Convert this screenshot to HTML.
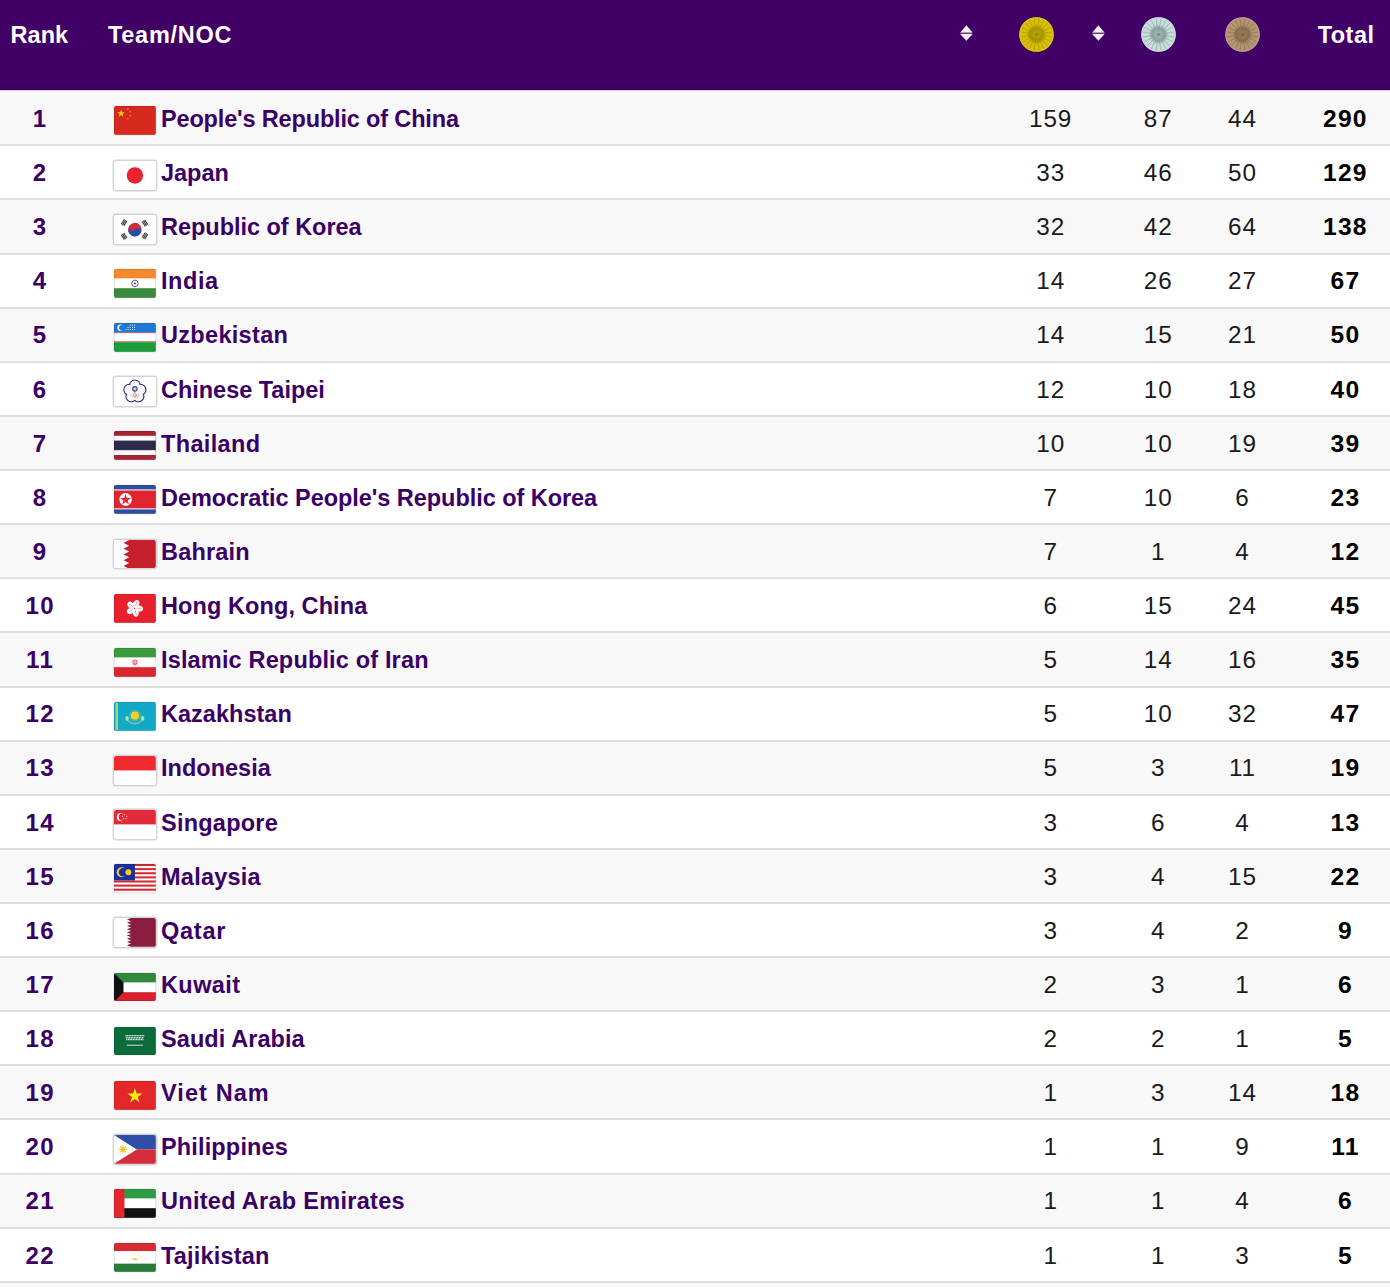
<!DOCTYPE html><html><head><meta charset="utf-8"><style>
*{margin:0;padding:0;box-sizing:border-box}
html,body{width:1390px;height:1287px;overflow:hidden;background:#f8f8f8;font-family:"Liberation Sans",sans-serif}
.hdr{position:absolute;left:0;top:0;width:1390px;height:90px;background:#400065;border-bottom:1px solid #2e004a}
.ht{position:absolute;color:#fff;font-weight:bold;font-size:23.5px;line-height:1;top:24.2px}
.row{position:absolute;left:0;width:1390px}
.row.o{background:#f8f8f8}
.row.e{background:#fff}
.ln{position:absolute;left:0;width:1390px;height:2px;background:#dfdfdf}
.rk,.nm{position:absolute;color:#3a0066;font-weight:bold;font-size:23.5px;line-height:1;white-space:nowrap}
.rk{left:0;width:79px;text-align:center;font-size:24px;letter-spacing:1.5px;padding-left:1.5px}
.nm{left:161px}
.n{position:absolute;color:#1a1a1a;font-size:24.3px;line-height:1;width:80px;text-align:center;letter-spacing:0.9px;padding-left:0.9px;margin-top:-0.4px}
.t{position:absolute;color:#000;font-weight:bold;font-size:24.6px;line-height:1;width:80px;text-align:center;letter-spacing:1.2px;padding-left:1.2px;margin-top:-0.6px}
.fl{position:absolute;left:114.3px;width:41.8px;height:28.8px;border-radius:2px;overflow:hidden;box-shadow:0 0 1px rgba(0,0,0,0.35)}
.fl svg{display:block;width:100%;height:100%}
.fl::after{content:"";position:absolute;inset:0;border-radius:2.5px;box-shadow:inset 0 0 0 0.8px rgba(0,0,0,0.12)}
.fl.w{overflow:visible;box-shadow:0 0 0 1.4px #d3d3d3}.fl.w svg{border-radius:2.5px}.fl.w::after{display:none}
.med{position:absolute;top:16.5px;width:35px;height:35px}
.sort{position:absolute;top:25px;width:13px;height:17px}
</style></head><body>
<div class="hdr">
<div class="ht" style="left:10.4px;letter-spacing:0.1px">Rank</div>
<div class="ht" style="left:108px;letter-spacing:0.72px">Team/NOC</div>
<svg class="sort" style="left:960.0px" viewBox="0 0 13 17"><path d="M6.4 0.25 L12.7 7.8 L0.1 7.8 Z" fill="#fdeefe"/><path d="M6.4 15.8 L12.7 8.9 L0.1 8.9 Z" fill="#fdeefe"/><rect x="0.6" y="7.8" width="11.6" height="1.1" fill="#5a4a74"/></svg>
<svg class="med" style="left:1019.2px" viewBox="0 0 35 35"><defs><radialGradient id="gr"><stop offset="0" stop-color="#9c8900" stop-opacity="0.55"/><stop offset="0.42" stop-color="#9c8900" stop-opacity="0.75"/><stop offset="0.62" stop-color="#9c8900" stop-opacity="0"/></radialGradient><filter id="gf" x="-10%" y="-10%" width="120%" height="120%"><feGaussianBlur stdDeviation="0.5"/></filter></defs><circle cx="17.5" cy="17.5" r="17.3" fill="#d8be00"/><g filter="url(#gf)"><line x1="22.44" y1="18.28" x2="33.30" y2="20.00" stroke="#9c8900" stroke-width="1.0" stroke-opacity="0.5"/><line x1="21.96" y1="19.77" x2="31.76" y2="24.76" stroke="#9c8900" stroke-width="1.0" stroke-opacity="0.5"/><line x1="21.04" y1="21.04" x2="28.81" y2="28.81" stroke="#9c8900" stroke-width="1.0" stroke-opacity="0.5"/><line x1="19.77" y1="21.96" x2="24.76" y2="31.76" stroke="#9c8900" stroke-width="1.0" stroke-opacity="0.5"/><line x1="18.28" y1="22.44" x2="20.00" y2="33.30" stroke="#9c8900" stroke-width="1.0" stroke-opacity="0.5"/><line x1="16.72" y1="22.44" x2="15.00" y2="33.30" stroke="#9c8900" stroke-width="1.0" stroke-opacity="0.5"/><line x1="15.23" y1="21.96" x2="10.24" y2="31.76" stroke="#9c8900" stroke-width="1.0" stroke-opacity="0.5"/><line x1="13.96" y1="21.04" x2="6.19" y2="28.81" stroke="#9c8900" stroke-width="1.0" stroke-opacity="0.5"/><line x1="13.04" y1="19.77" x2="3.24" y2="24.76" stroke="#9c8900" stroke-width="1.0" stroke-opacity="0.5"/><line x1="12.56" y1="18.28" x2="1.70" y2="20.00" stroke="#9c8900" stroke-width="1.0" stroke-opacity="0.5"/><line x1="12.56" y1="16.72" x2="1.70" y2="15.00" stroke="#9c8900" stroke-width="1.0" stroke-opacity="0.5"/><line x1="13.04" y1="15.23" x2="3.24" y2="10.24" stroke="#9c8900" stroke-width="1.0" stroke-opacity="0.5"/><line x1="13.96" y1="13.96" x2="6.19" y2="6.19" stroke="#9c8900" stroke-width="1.0" stroke-opacity="0.5"/><line x1="15.23" y1="13.04" x2="10.24" y2="3.24" stroke="#9c8900" stroke-width="1.0" stroke-opacity="0.5"/><line x1="16.72" y1="12.56" x2="15.00" y2="1.70" stroke="#9c8900" stroke-width="1.0" stroke-opacity="0.5"/><line x1="18.28" y1="12.56" x2="20.00" y2="1.70" stroke="#9c8900" stroke-width="1.0" stroke-opacity="0.5"/><line x1="19.77" y1="13.04" x2="24.76" y2="3.24" stroke="#9c8900" stroke-width="1.0" stroke-opacity="0.5"/><line x1="21.04" y1="13.96" x2="28.81" y2="6.19" stroke="#9c8900" stroke-width="1.0" stroke-opacity="0.5"/><line x1="21.96" y1="15.23" x2="31.76" y2="10.24" stroke="#9c8900" stroke-width="1.0" stroke-opacity="0.5"/><line x1="22.44" y1="16.72" x2="33.30" y2="15.00" stroke="#9c8900" stroke-width="1.0" stroke-opacity="0.5"/><circle cx="17.5" cy="17.5" r="16" fill="url(#gr)"/><circle cx="17.5" cy="17.5" r="3.2" fill="none" stroke="#b5a000" stroke-width="1.2" stroke-opacity="0.8"/><circle cx="17.5" cy="17.5" r="1.2" fill="#8f7f00"/><circle cx="17.5" cy="17.5" r="16.7" fill="none" stroke="#e0c830" stroke-width="1.1" stroke-opacity="0.7"/></g></svg>
<svg class="sort" style="left:1091.5px" viewBox="0 0 13 17"><path d="M6.4 0.25 L12.7 7.8 L0.1 7.8 Z" fill="#fdeefe"/><path d="M6.4 15.8 L12.7 8.9 L0.1 8.9 Z" fill="#fdeefe"/><rect x="0.6" y="7.8" width="11.6" height="1.1" fill="#5a4a74"/></svg>
<svg class="med" style="left:1140.7px" viewBox="0 0 35 35"><defs><radialGradient id="sr"><stop offset="0" stop-color="#7e9494" stop-opacity="0.55"/><stop offset="0.42" stop-color="#7e9494" stop-opacity="0.75"/><stop offset="0.62" stop-color="#7e9494" stop-opacity="0"/></radialGradient><filter id="sf" x="-10%" y="-10%" width="120%" height="120%"><feGaussianBlur stdDeviation="0.5"/></filter></defs><circle cx="17.5" cy="17.5" r="17.3" fill="#c4ddd6"/><g filter="url(#sf)"><line x1="22.44" y1="18.28" x2="33.30" y2="20.00" stroke="#7e9494" stroke-width="1.0" stroke-opacity="0.5"/><line x1="21.96" y1="19.77" x2="31.76" y2="24.76" stroke="#7e9494" stroke-width="1.0" stroke-opacity="0.5"/><line x1="21.04" y1="21.04" x2="28.81" y2="28.81" stroke="#7e9494" stroke-width="1.0" stroke-opacity="0.5"/><line x1="19.77" y1="21.96" x2="24.76" y2="31.76" stroke="#7e9494" stroke-width="1.0" stroke-opacity="0.5"/><line x1="18.28" y1="22.44" x2="20.00" y2="33.30" stroke="#7e9494" stroke-width="1.0" stroke-opacity="0.5"/><line x1="16.72" y1="22.44" x2="15.00" y2="33.30" stroke="#7e9494" stroke-width="1.0" stroke-opacity="0.5"/><line x1="15.23" y1="21.96" x2="10.24" y2="31.76" stroke="#7e9494" stroke-width="1.0" stroke-opacity="0.5"/><line x1="13.96" y1="21.04" x2="6.19" y2="28.81" stroke="#7e9494" stroke-width="1.0" stroke-opacity="0.5"/><line x1="13.04" y1="19.77" x2="3.24" y2="24.76" stroke="#7e9494" stroke-width="1.0" stroke-opacity="0.5"/><line x1="12.56" y1="18.28" x2="1.70" y2="20.00" stroke="#7e9494" stroke-width="1.0" stroke-opacity="0.5"/><line x1="12.56" y1="16.72" x2="1.70" y2="15.00" stroke="#7e9494" stroke-width="1.0" stroke-opacity="0.5"/><line x1="13.04" y1="15.23" x2="3.24" y2="10.24" stroke="#7e9494" stroke-width="1.0" stroke-opacity="0.5"/><line x1="13.96" y1="13.96" x2="6.19" y2="6.19" stroke="#7e9494" stroke-width="1.0" stroke-opacity="0.5"/><line x1="15.23" y1="13.04" x2="10.24" y2="3.24" stroke="#7e9494" stroke-width="1.0" stroke-opacity="0.5"/><line x1="16.72" y1="12.56" x2="15.00" y2="1.70" stroke="#7e9494" stroke-width="1.0" stroke-opacity="0.5"/><line x1="18.28" y1="12.56" x2="20.00" y2="1.70" stroke="#7e9494" stroke-width="1.0" stroke-opacity="0.5"/><line x1="19.77" y1="13.04" x2="24.76" y2="3.24" stroke="#7e9494" stroke-width="1.0" stroke-opacity="0.5"/><line x1="21.04" y1="13.96" x2="28.81" y2="6.19" stroke="#7e9494" stroke-width="1.0" stroke-opacity="0.5"/><line x1="21.96" y1="15.23" x2="31.76" y2="10.24" stroke="#7e9494" stroke-width="1.0" stroke-opacity="0.5"/><line x1="22.44" y1="16.72" x2="33.30" y2="15.00" stroke="#7e9494" stroke-width="1.0" stroke-opacity="0.5"/><circle cx="17.5" cy="17.5" r="16" fill="url(#sr)"/><circle cx="17.5" cy="17.5" r="3.2" fill="none" stroke="#9aaeac" stroke-width="1.2" stroke-opacity="0.8"/><circle cx="17.5" cy="17.5" r="1.2" fill="#6f8584"/><circle cx="17.5" cy="17.5" r="16.7" fill="none" stroke="#d8d2f0" stroke-width="1.1" stroke-opacity="0.7"/></g></svg>
<svg class="med" style="left:1225.0px" viewBox="0 0 35 35"><defs><radialGradient id="br"><stop offset="0" stop-color="#7e6446" stop-opacity="0.55"/><stop offset="0.42" stop-color="#7e6446" stop-opacity="0.75"/><stop offset="0.62" stop-color="#7e6446" stop-opacity="0"/></radialGradient><filter id="bf" x="-10%" y="-10%" width="120%" height="120%"><feGaussianBlur stdDeviation="0.5"/></filter></defs><circle cx="17.5" cy="17.5" r="17.3" fill="#b4966e"/><g filter="url(#bf)"><line x1="22.44" y1="18.28" x2="33.30" y2="20.00" stroke="#7e6446" stroke-width="1.0" stroke-opacity="0.5"/><line x1="21.96" y1="19.77" x2="31.76" y2="24.76" stroke="#7e6446" stroke-width="1.0" stroke-opacity="0.5"/><line x1="21.04" y1="21.04" x2="28.81" y2="28.81" stroke="#7e6446" stroke-width="1.0" stroke-opacity="0.5"/><line x1="19.77" y1="21.96" x2="24.76" y2="31.76" stroke="#7e6446" stroke-width="1.0" stroke-opacity="0.5"/><line x1="18.28" y1="22.44" x2="20.00" y2="33.30" stroke="#7e6446" stroke-width="1.0" stroke-opacity="0.5"/><line x1="16.72" y1="22.44" x2="15.00" y2="33.30" stroke="#7e6446" stroke-width="1.0" stroke-opacity="0.5"/><line x1="15.23" y1="21.96" x2="10.24" y2="31.76" stroke="#7e6446" stroke-width="1.0" stroke-opacity="0.5"/><line x1="13.96" y1="21.04" x2="6.19" y2="28.81" stroke="#7e6446" stroke-width="1.0" stroke-opacity="0.5"/><line x1="13.04" y1="19.77" x2="3.24" y2="24.76" stroke="#7e6446" stroke-width="1.0" stroke-opacity="0.5"/><line x1="12.56" y1="18.28" x2="1.70" y2="20.00" stroke="#7e6446" stroke-width="1.0" stroke-opacity="0.5"/><line x1="12.56" y1="16.72" x2="1.70" y2="15.00" stroke="#7e6446" stroke-width="1.0" stroke-opacity="0.5"/><line x1="13.04" y1="15.23" x2="3.24" y2="10.24" stroke="#7e6446" stroke-width="1.0" stroke-opacity="0.5"/><line x1="13.96" y1="13.96" x2="6.19" y2="6.19" stroke="#7e6446" stroke-width="1.0" stroke-opacity="0.5"/><line x1="15.23" y1="13.04" x2="10.24" y2="3.24" stroke="#7e6446" stroke-width="1.0" stroke-opacity="0.5"/><line x1="16.72" y1="12.56" x2="15.00" y2="1.70" stroke="#7e6446" stroke-width="1.0" stroke-opacity="0.5"/><line x1="18.28" y1="12.56" x2="20.00" y2="1.70" stroke="#7e6446" stroke-width="1.0" stroke-opacity="0.5"/><line x1="19.77" y1="13.04" x2="24.76" y2="3.24" stroke="#7e6446" stroke-width="1.0" stroke-opacity="0.5"/><line x1="21.04" y1="13.96" x2="28.81" y2="6.19" stroke="#7e6446" stroke-width="1.0" stroke-opacity="0.5"/><line x1="21.96" y1="15.23" x2="31.76" y2="10.24" stroke="#7e6446" stroke-width="1.0" stroke-opacity="0.5"/><line x1="22.44" y1="16.72" x2="33.30" y2="15.00" stroke="#7e6446" stroke-width="1.0" stroke-opacity="0.5"/><circle cx="17.5" cy="17.5" r="16" fill="url(#br)"/><circle cx="17.5" cy="17.5" r="3.2" fill="none" stroke="#937a5c" stroke-width="1.2" stroke-opacity="0.8"/><circle cx="17.5" cy="17.5" r="1.2" fill="#6f5a40"/><circle cx="17.5" cy="17.5" r="16.7" fill="none" stroke="#c89ab0" stroke-width="1.1" stroke-opacity="0.7"/></g></svg>
<div class="ht" style="left:1317.7px;letter-spacing:0.48px">Total</div>
</div>
<div style="position:absolute;left:0;top:90px;width:1390px;height:1px;background:#ddd3e6;z-index:2"></div><div style="position:absolute;left:0;top:91px;width:1390px;height:1px;background:#f0edf4;z-index:2"></div>
<div class="row o" style="top:90.50px;height:55.80px"></div>
<div class="ln" style="top:144.30px"></div>
<div class="rk" style="top:107px">1</div>
<div class="fl" style="top:105.80px"><svg viewBox="0 0 44 30" preserveAspectRatio="none"><rect width="44" height="30" fill="#d62a1f"/><polygon points="7.50,3.60 8.44,6.50 11.49,6.50 9.03,8.30 9.97,11.20 7.50,9.40 5.03,11.20 5.97,8.30 3.51,6.50 6.56,6.50" fill="#fcd116"/><polygon points="14.98,1.88 14.94,2.90 15.90,3.25 14.92,3.53 14.89,4.55 14.32,3.70 13.34,3.98 13.97,3.18 13.40,2.34 14.35,2.69" fill="#fc7a50"/><polygon points="18.19,5.01 17.73,5.92 18.45,6.64 17.44,6.48 16.98,7.38 16.82,6.38 15.82,6.22 16.72,5.76 16.56,4.75 17.28,5.47" fill="#fc7a50"/><polygon points="17.20,8.80 17.51,9.77 18.53,9.77 17.71,10.37 18.02,11.33 17.20,10.73 16.38,11.33 16.69,10.37 15.87,9.77 16.89,9.77" fill="#fc7a50"/><polygon points="14.98,11.88 14.94,12.90 15.90,13.25 14.92,13.53 14.89,14.55 14.32,13.70 13.34,13.98 13.97,13.18 13.40,12.34 14.35,12.69" fill="#fc7a50"/></svg></div>
<div class="nm" style="top:108.00px;letter-spacing:-0.160px">People's Republic of China</div>
<div class="n" style="left:1010.2px;top:107px">159</div>
<div class="n" style="left:1117.8px;top:107px">87</div>
<div class="n" style="left:1202.0px;top:107px">44</div>
<div class="t" style="left:1304.8px;top:108px">290</div>
<div class="row e" style="top:146.30px;height:54.12px"></div>
<div class="ln" style="top:198.42px"></div>
<div class="rk" style="top:161px">2</div>
<div class="fl w" style="top:160.76px"><svg viewBox="0 0 44 30" preserveAspectRatio="none"><rect width="44" height="30" fill="#fff"/><circle cx="22" cy="15" r="8.6" fill="#e8222f"/></svg></div>
<div class="nm" style="top:162.00px;letter-spacing:-0.025px">Japan</div>
<div class="n" style="left:1010.2px;top:161px">33</div>
<div class="n" style="left:1117.8px;top:161px">46</div>
<div class="n" style="left:1202.0px;top:161px">50</div>
<div class="t" style="left:1304.8px;top:162px">129</div>
<div class="row o" style="top:200.42px;height:54.12px"></div>
<div class="ln" style="top:252.54px"></div>
<div class="rk" style="top:215px">3</div>
<div class="fl w" style="top:214.88px"><svg viewBox="0 0 44 30" preserveAspectRatio="none"><rect width="44" height="30" fill="#fff"/><g transform="translate(22,15.2) rotate(-56.31)"><circle r="7.1" fill="#cd2e3a"/><path fill="#1c4fb0" d="M0,-7.1 A3.55,3.55 0 0 0 0,0 A3.55,3.55 0 0 1 0,7.1 A7.1,7.1 0 0 1 0,-7.1Z"/></g><g transform="translate(11,8.2) rotate(33.7)"><rect x="-2.70" y="-3.1" width="1.25" height="6.2" fill="#3a3a3a"/><rect x="-1.10" y="-3.1" width="1.25" height="6.2" fill="#3a3a3a"/><rect x="0.50" y="-3.1" width="1.25" height="6.2" fill="#3a3a3a"/><rect x="-2.8" y="-0.25" width="5.6" height="0.5" fill="#fff" opacity="0.35"/></g><g transform="translate(33,8.2) rotate(-33.7)"><rect x="-2.70" y="-3.1" width="1.25" height="6.2" fill="#3a3a3a"/><rect x="-1.10" y="-3.1" width="1.25" height="6.2" fill="#3a3a3a"/><rect x="0.50" y="-3.1" width="1.25" height="6.2" fill="#3a3a3a"/><rect x="-2.8" y="-0.25" width="5.6" height="0.5" fill="#fff" opacity="0.35"/></g><g transform="translate(11,22) rotate(-33.7)"><rect x="-2.70" y="-3.1" width="1.25" height="6.2" fill="#3a3a3a"/><rect x="-1.10" y="-3.1" width="1.25" height="6.2" fill="#3a3a3a"/><rect x="0.50" y="-3.1" width="1.25" height="6.2" fill="#3a3a3a"/><rect x="-2.8" y="-0.25" width="5.6" height="0.5" fill="#fff" opacity="0.35"/></g><g transform="translate(33,22) rotate(33.7)"><rect x="-2.70" y="-3.1" width="1.25" height="6.2" fill="#3a3a3a"/><rect x="-1.10" y="-3.1" width="1.25" height="6.2" fill="#3a3a3a"/><rect x="0.50" y="-3.1" width="1.25" height="6.2" fill="#3a3a3a"/><rect x="-2.8" y="-0.25" width="5.6" height="0.5" fill="#fff" opacity="0.35"/></g></svg></div>
<div class="nm" style="top:216.00px;letter-spacing:-0.025px">Republic of Korea</div>
<div class="n" style="left:1010.2px;top:215px">32</div>
<div class="n" style="left:1117.8px;top:215px">42</div>
<div class="n" style="left:1202.0px;top:215px">64</div>
<div class="t" style="left:1304.8px;top:216px">138</div>
<div class="row e" style="top:254.54px;height:54.12px"></div>
<div class="ln" style="top:306.66px"></div>
<div class="rk" style="top:269px">4</div>
<div class="fl" style="top:269.00px"><svg viewBox="0 0 44 30" preserveAspectRatio="none"><rect width="44" height="10" fill="#f7882d"/><rect y="10" width="44" height="10" fill="#fff"/><rect y="20" width="44" height="10" fill="#3b8a3c"/><circle cx="22" cy="15" r="3.4" fill="none" stroke="#1e2a78" stroke-width="0.8"/><circle cx="22" cy="15" r="1" fill="#1e2a78"/></svg></div>
<div class="nm" style="top:270.00px;letter-spacing:0.550px">India</div>
<div class="n" style="left:1010.2px;top:269px">14</div>
<div class="n" style="left:1117.8px;top:269px">26</div>
<div class="n" style="left:1202.0px;top:269px">27</div>
<div class="t" style="left:1304.8px;top:270px">67</div>
<div class="row o" style="top:308.66px;height:54.12px"></div>
<div class="ln" style="top:360.78px"></div>
<div class="rk" style="top:323px">5</div>
<div class="fl" style="top:323.12px"><svg viewBox="0 0 44 30" preserveAspectRatio="none"><rect width="44" height="10" fill="#1b78d4"/><rect y="10" width="44" height="0.8" fill="#d22"/><rect y="10.8" width="44" height="8.4" fill="#fff"/><rect y="19.2" width="44" height="0.8" fill="#d22"/><rect y="20" width="44" height="10" fill="#1a9c3b"/><circle cx="7" cy="5" r="3.4" fill="#fff"/><circle cx="8.4" cy="5" r="3" fill="#1b78d4"/><circle cx="17.1" cy="2.2" r="0.6" fill="#fff"/><circle cx="19.4" cy="2.2" r="0.6" fill="#fff"/><circle cx="21.7" cy="2.2" r="0.6" fill="#fff"/><circle cx="14.8" cy="4.5" r="0.6" fill="#fff"/><circle cx="17.1" cy="4.5" r="0.6" fill="#fff"/><circle cx="19.4" cy="4.5" r="0.6" fill="#fff"/><circle cx="21.7" cy="4.5" r="0.6" fill="#fff"/><circle cx="12.5" cy="6.8" r="0.6" fill="#fff"/><circle cx="14.8" cy="6.8" r="0.6" fill="#fff"/><circle cx="17.1" cy="6.8" r="0.6" fill="#fff"/><circle cx="19.4" cy="6.8" r="0.6" fill="#fff"/><circle cx="21.7" cy="6.8" r="0.6" fill="#fff"/></svg></div>
<div class="nm" style="top:324.00px;letter-spacing:0.311px">Uzbekistan</div>
<div class="n" style="left:1010.2px;top:323px">14</div>
<div class="n" style="left:1117.8px;top:323px">15</div>
<div class="n" style="left:1202.0px;top:323px">21</div>
<div class="t" style="left:1304.8px;top:324px">50</div>
<div class="row e" style="top:362.78px;height:54.12px"></div>
<div class="ln" style="top:414.90px"></div>
<div class="rk" style="top:378px">6</div>
<div class="fl w" style="top:377.24px"><svg viewBox="0 0 44 30" preserveAspectRatio="none"><rect width="44" height="30" fill="#fff"/><circle cx="22.00" cy="8.90" r="5.6" fill="#fff" stroke="#3c3f7a" stroke-width="1.4"/><circle cx="27.99" cy="13.25" r="5.6" fill="#fff" stroke="#3c3f7a" stroke-width="1.4"/><circle cx="25.70" cy="20.30" r="5.6" fill="#fff" stroke="#3c3f7a" stroke-width="1.4"/><circle cx="18.30" cy="20.30" r="5.6" fill="#fff" stroke="#3c3f7a" stroke-width="1.4"/><circle cx="16.01" cy="13.25" r="5.6" fill="#fff" stroke="#3c3f7a" stroke-width="1.4"/><circle cx="22.00" cy="8.90" r="4.9" fill="#fdf8fc"/><circle cx="27.99" cy="13.25" r="4.9" fill="#fdf8fc"/><circle cx="25.70" cy="20.30" r="4.9" fill="#fdf8fc"/><circle cx="18.30" cy="20.30" r="4.9" fill="#fdf8fc"/><circle cx="16.01" cy="13.25" r="4.9" fill="#fdf8fc"/><circle cx="22" cy="15.2" r="6.5" fill="#fdf8fc"/><circle cx="19" cy="19" r="1.5" fill="none" stroke="#e8b040" stroke-width="0.5" opacity="0.7"/><circle cx="22" cy="19" r="1.5" fill="none" stroke="#444" stroke-width="0.5" opacity="0.7"/><circle cx="25" cy="19" r="1.5" fill="none" stroke="#e06060" stroke-width="0.5" opacity="0.7"/><circle cx="20.5" cy="20.4" r="1.5" fill="none" stroke="#e8c860" stroke-width="0.5" opacity="0.7"/><circle cx="23.5" cy="20.4" r="1.5" fill="none" stroke="#60a060" stroke-width="0.5" opacity="0.7"/><circle cx="22" cy="12.4" r="2.3" fill="#b8d0ff" stroke="#3a4a80" stroke-width="1.2"/><path d="M22 14.8 L22 17.2" stroke="#3a4a80" stroke-width="0.6"/></svg></div>
<div class="nm" style="top:379.00px;letter-spacing:-0.023px">Chinese Taipei</div>
<div class="n" style="left:1010.2px;top:378px">12</div>
<div class="n" style="left:1117.8px;top:378px">10</div>
<div class="n" style="left:1202.0px;top:378px">18</div>
<div class="t" style="left:1304.8px;top:379px">40</div>
<div class="row o" style="top:416.90px;height:54.12px"></div>
<div class="ln" style="top:469.02px"></div>
<div class="rk" style="top:432px">7</div>
<div class="fl" style="top:431.36px"><svg viewBox="0 0 44 30" preserveAspectRatio="none"><rect width="44" height="30" fill="#a8222f"/><rect y="5" width="44" height="20" fill="#fff"/><rect y="10" width="44" height="10" fill="#2d2a4a"/></svg></div>
<div class="nm" style="top:433.00px;letter-spacing:0.343px">Thailand</div>
<div class="n" style="left:1010.2px;top:432px">10</div>
<div class="n" style="left:1117.8px;top:432px">10</div>
<div class="n" style="left:1202.0px;top:432px">19</div>
<div class="t" style="left:1304.8px;top:433px">39</div>
<div class="row e" style="top:471.02px;height:54.12px"></div>
<div class="ln" style="top:523.14px"></div>
<div class="rk" style="top:486px">8</div>
<div class="fl" style="top:485.48px"><svg viewBox="0 0 44 30" preserveAspectRatio="none"><rect width="44" height="30" fill="#2b4ea3"/><rect y="4.6" width="44" height="20.8" fill="#fff"/><rect y="5.7" width="44" height="18.6" fill="#e2242f"/><circle cx="12.2" cy="15" r="6.6" fill="#fff"/><polygon points="12.20,9.30 13.57,13.51 18.00,13.51 14.42,16.12 15.79,20.34 12.20,17.73 8.61,20.34 9.98,16.12 6.40,13.51 10.83,13.51" fill="#e2242f"/></svg></div>
<div class="nm" style="top:487.00px;letter-spacing:-0.047px">Democratic People's Republic of Korea</div>
<div class="n" style="left:1010.2px;top:486px">7</div>
<div class="n" style="left:1117.8px;top:486px">10</div>
<div class="n" style="left:1202.0px;top:486px">6</div>
<div class="t" style="left:1304.8px;top:487px">23</div>
<div class="row o" style="top:525.14px;height:54.12px"></div>
<div class="ln" style="top:577.26px"></div>
<div class="rk" style="top:540px">9</div>
<div class="fl w" style="top:539.60px"><svg viewBox="0 0 44 30" preserveAspectRatio="none"><rect width="44" height="30" fill="#fff"/><polygon points="16,0 10,3.00 16,6.00 10,9.00 16,12.00 10,15.00 16,18.00 10,21.00 16,24.00 10,27.00 16,30.00 44,30 44,0" fill="#c6202f"/></svg></div>
<div class="nm" style="top:541.00px;letter-spacing:0.200px">Bahrain</div>
<div class="n" style="left:1010.2px;top:540px">7</div>
<div class="n" style="left:1117.8px;top:540px">1</div>
<div class="n" style="left:1202.0px;top:540px">4</div>
<div class="t" style="left:1304.8px;top:541px">12</div>
<div class="row e" style="top:579.26px;height:54.12px"></div>
<div class="ln" style="top:631.38px"></div>
<div class="rk" style="top:594px">10</div>
<div class="fl" style="top:593.72px"><svg viewBox="0 0 44 30" preserveAspectRatio="none"><rect width="44" height="30" fill="#e8202e"/><g transform="translate(21.6 14.8) rotate(8)"><ellipse cx="0.9" cy="-4.5" rx="3.1" ry="4.5" fill="#fff" transform="rotate(22 0.9 -4.5)"/><path d="M0.2 -1.5 Q1.6 -4 1.2 -7" stroke="#e8202e" stroke-width="0.45" fill="none"/></g><g transform="translate(21.6 14.8) rotate(80)"><ellipse cx="0.9" cy="-4.5" rx="3.1" ry="4.5" fill="#fff" transform="rotate(22 0.9 -4.5)"/><path d="M0.2 -1.5 Q1.6 -4 1.2 -7" stroke="#e8202e" stroke-width="0.45" fill="none"/></g><g transform="translate(21.6 14.8) rotate(152)"><ellipse cx="0.9" cy="-4.5" rx="3.1" ry="4.5" fill="#fff" transform="rotate(22 0.9 -4.5)"/><path d="M0.2 -1.5 Q1.6 -4 1.2 -7" stroke="#e8202e" stroke-width="0.45" fill="none"/></g><g transform="translate(21.6 14.8) rotate(224)"><ellipse cx="0.9" cy="-4.5" rx="3.1" ry="4.5" fill="#fff" transform="rotate(22 0.9 -4.5)"/><path d="M0.2 -1.5 Q1.6 -4 1.2 -7" stroke="#e8202e" stroke-width="0.45" fill="none"/></g><g transform="translate(21.6 14.8) rotate(296)"><ellipse cx="0.9" cy="-4.5" rx="3.1" ry="4.5" fill="#fff" transform="rotate(22 0.9 -4.5)"/><path d="M0.2 -1.5 Q1.6 -4 1.2 -7" stroke="#e8202e" stroke-width="0.45" fill="none"/></g><circle cx="21.6" cy="14.8" r="0.8" fill="#e8202e"/></svg></div>
<div class="nm" style="top:595.00px;letter-spacing:0.087px">Hong Kong, China</div>
<div class="n" style="left:1010.2px;top:594px">6</div>
<div class="n" style="left:1117.8px;top:594px">15</div>
<div class="n" style="left:1202.0px;top:594px">24</div>
<div class="t" style="left:1304.8px;top:595px">45</div>
<div class="row o" style="top:633.38px;height:54.12px"></div>
<div class="ln" style="top:685.50px"></div>
<div class="rk" style="top:648px">11</div>
<div class="fl" style="top:647.84px"><svg viewBox="0 0 44 30" preserveAspectRatio="none"><rect width="44" height="10" fill="#3c9a3f"/><rect y="10" width="44" height="10" fill="#fff"/><rect y="20" width="44" height="10" fill="#d8272e"/><path d="M22 11.6 L22 18.2 M20.3 12.5 Q19 15 21 17.6 M23.7 12.5 Q25 15 23 17.6" stroke="#d8272e" stroke-width="0.9" fill="none"/></svg></div>
<div class="nm" style="top:649.00px;letter-spacing:0.161px">Islamic Republic of Iran</div>
<div class="n" style="left:1010.2px;top:648px">5</div>
<div class="n" style="left:1117.8px;top:648px">14</div>
<div class="n" style="left:1202.0px;top:648px">16</div>
<div class="t" style="left:1304.8px;top:649px">35</div>
<div class="row e" style="top:687.50px;height:54.12px"></div>
<div class="ln" style="top:739.62px"></div>
<div class="rk" style="top:702px">12</div>
<div class="fl" style="top:701.96px"><svg viewBox="0 0 44 30" preserveAspectRatio="none"><rect width="44" height="30" fill="#12a9c9"/><rect x="1.6" y="1" width="2.6" height="28" fill="#a6d67c"/><circle cx="22" cy="14.2" r="4.3" fill="#f5d11e"/><circle cx="22" cy="14.2" r="5.6" fill="none" stroke="#f0d850" stroke-width="0.6" opacity="0.6"/><ellipse cx="13.8" cy="17.2" rx="1.7" ry="2.5" fill="#b6e39a"/><ellipse cx="30.2" cy="17.2" rx="1.7" ry="2.5" fill="#b6e39a"/><path d="M15 19.6 Q22 25.5 29 19.6" stroke="#6cc8a8" stroke-width="1.6" fill="none"/></svg></div>
<div class="nm" style="top:703.00px;letter-spacing:0.022px">Kazakhstan</div>
<div class="n" style="left:1010.2px;top:702px">5</div>
<div class="n" style="left:1117.8px;top:702px">10</div>
<div class="n" style="left:1202.0px;top:702px">32</div>
<div class="t" style="left:1304.8px;top:703px">47</div>
<div class="row o" style="top:741.62px;height:54.12px"></div>
<div class="ln" style="top:793.74px"></div>
<div class="rk" style="top:756px">13</div>
<div class="fl w" style="top:756.08px"><svg viewBox="0 0 44 30" preserveAspectRatio="none"><rect width="44" height="30" fill="#fff"/><rect width="44" height="15" fill="#ef2a2f"/></svg></div>
<div class="nm" style="top:757.00px;letter-spacing:0.013px">Indonesia</div>
<div class="n" style="left:1010.2px;top:756px">5</div>
<div class="n" style="left:1117.8px;top:756px">3</div>
<div class="n" style="left:1202.0px;top:756px">11</div>
<div class="t" style="left:1304.8px;top:757px">19</div>
<div class="row e" style="top:795.74px;height:54.12px"></div>
<div class="ln" style="top:847.86px"></div>
<div class="rk" style="top:811px">14</div>
<div class="fl w" style="top:810.20px"><svg viewBox="0 0 44 30" preserveAspectRatio="none"><rect width="44" height="30" fill="#fff"/><rect width="44" height="15" fill="#e32a3a"/><circle cx="7.3" cy="7.4" r="4.3" fill="#fff"/><circle cx="9" cy="7.4" r="4" fill="#e32a3a"/><polygon points="11.20,4.10 11.40,4.72 12.06,4.72 11.53,5.11 11.73,5.73 11.20,5.34 10.67,5.73 10.87,5.11 10.34,4.72 11.00,4.72" fill="#fff"/><polygon points="13.39,5.69 13.59,6.31 14.24,6.31 13.71,6.70 13.92,7.32 13.39,6.93 12.86,7.32 13.06,6.70 12.53,6.31 13.19,6.31" fill="#fff"/><polygon points="12.55,8.26 12.75,8.88 13.41,8.88 12.88,9.27 13.08,9.89 12.55,9.50 12.02,9.89 12.22,9.27 11.70,8.88 12.35,8.88" fill="#fff"/><polygon points="9.85,8.26 10.05,8.88 10.70,8.88 10.18,9.27 10.38,9.89 9.85,9.50 9.32,9.89 9.52,9.27 8.99,8.88 9.65,8.88" fill="#fff"/><polygon points="9.01,5.69 9.21,6.31 9.87,6.31 9.34,6.70 9.54,7.32 9.01,6.93 8.48,7.32 8.69,6.70 8.16,6.31 8.81,6.31" fill="#fff"/></svg></div>
<div class="nm" style="top:812.00px;letter-spacing:0.237px">Singapore</div>
<div class="n" style="left:1010.2px;top:811px">3</div>
<div class="n" style="left:1117.8px;top:811px">6</div>
<div class="n" style="left:1202.0px;top:811px">4</div>
<div class="t" style="left:1304.8px;top:812px">13</div>
<div class="row o" style="top:849.86px;height:54.12px"></div>
<div class="ln" style="top:901.98px"></div>
<div class="rk" style="top:865px">15</div>
<div class="fl" style="top:864.32px"><svg viewBox="0 0 44 30" preserveAspectRatio="none"><rect width="44" height="30" fill="#fff"/><rect y="0.000" width="44" height="2.143" fill="#d42a32"/><rect y="4.286" width="44" height="2.143" fill="#d42a32"/><rect y="8.571" width="44" height="2.143" fill="#d42a32"/><rect y="12.857" width="44" height="2.143" fill="#d42a32"/><rect y="17.143" width="44" height="2.143" fill="#d42a32"/><rect y="21.429" width="44" height="2.143" fill="#d42a32"/><rect y="25.714" width="44" height="2.143" fill="#d42a32"/><rect width="22" height="17.14" fill="#1a2fa0"/><circle cx="8" cy="8.6" r="5.2" fill="#f7cf1a"/><circle cx="9.6" cy="8.6" r="4.5" fill="#1a2fa0"/><circle cx="15.2" cy="8.6" r="3.1" fill="#f7cf1a"/></svg></div>
<div class="nm" style="top:866.00px;letter-spacing:0.243px">Malaysia</div>
<div class="n" style="left:1010.2px;top:865px">3</div>
<div class="n" style="left:1117.8px;top:865px">4</div>
<div class="n" style="left:1202.0px;top:865px">15</div>
<div class="t" style="left:1304.8px;top:866px">22</div>
<div class="row e" style="top:903.98px;height:54.12px"></div>
<div class="ln" style="top:956.10px"></div>
<div class="rk" style="top:919px">16</div>
<div class="fl w" style="top:918.44px"><svg viewBox="0 0 44 30" preserveAspectRatio="none"><rect width="44" height="30" fill="#fff"/><polygon points="18,0 13.5,1.67 18,3.33 13.5,5.00 18,6.67 13.5,8.33 18,10.00 13.5,11.67 18,13.33 13.5,15.00 18,16.67 13.5,18.33 18,20.00 13.5,21.67 18,23.33 13.5,25.00 18,26.67 13.5,28.33 18,30.00 44,30 44,0" fill="#8a1c40"/></svg></div>
<div class="nm" style="top:920.00px;letter-spacing:0.750px">Qatar</div>
<div class="n" style="left:1010.2px;top:919px">3</div>
<div class="n" style="left:1117.8px;top:919px">4</div>
<div class="n" style="left:1202.0px;top:919px">2</div>
<div class="t" style="left:1304.8px;top:920px">9</div>
<div class="row o" style="top:958.10px;height:54.12px"></div>
<div class="ln" style="top:1010.22px"></div>
<div class="rk" style="top:973px">17</div>
<div class="fl" style="top:972.56px"><svg viewBox="0 0 44 30" preserveAspectRatio="none"><rect width="44" height="10" fill="#2f8a3e"/><rect y="10" width="44" height="10" fill="#fff"/><rect y="20" width="44" height="10" fill="#d8202e"/><polygon points="0,0 10,10 10,20 0,30" fill="#111"/></svg></div>
<div class="nm" style="top:974.00px;letter-spacing:0.400px">Kuwait</div>
<div class="n" style="left:1010.2px;top:973px">2</div>
<div class="n" style="left:1117.8px;top:973px">3</div>
<div class="n" style="left:1202.0px;top:973px">1</div>
<div class="t" style="left:1304.8px;top:974px">6</div>
<div class="row e" style="top:1012.22px;height:54.12px"></div>
<div class="ln" style="top:1064.34px"></div>
<div class="rk" style="top:1027px">18</div>
<div class="fl" style="top:1026.68px"><svg viewBox="0 0 44 30" preserveAspectRatio="none"><rect width="44" height="30" fill="#0b6b3c"/><path d="M12 9 h20 M12.5 11 h19 M13 13 h18" stroke="#e8f0ea" stroke-width="1.4" stroke-dasharray="1.2 0.5"/><rect x="13.5" y="18.5" width="17" height="0.9" fill="#e8f0ea"/></svg></div>
<div class="nm" style="top:1028.00px;letter-spacing:0.082px">Saudi Arabia</div>
<div class="n" style="left:1010.2px;top:1027px">2</div>
<div class="n" style="left:1117.8px;top:1027px">2</div>
<div class="n" style="left:1202.0px;top:1027px">1</div>
<div class="t" style="left:1304.8px;top:1028px">5</div>
<div class="row o" style="top:1066.34px;height:54.12px"></div>
<div class="ln" style="top:1118.46px"></div>
<div class="rk" style="top:1081px">19</div>
<div class="fl" style="top:1080.80px"><svg viewBox="0 0 44 30" preserveAspectRatio="none"><rect width="44" height="30" fill="#e2262a"/><polygon points="22.00,7.20 23.89,13.00 29.99,13.00 25.05,16.59 26.94,22.40 22.00,18.81 17.06,22.40 18.95,16.59 14.01,13.00 20.11,13.00" fill="#ffe81a"/></svg></div>
<div class="nm" style="top:1082.00px;letter-spacing:1.086px">Viet Nam</div>
<div class="n" style="left:1010.2px;top:1081px">1</div>
<div class="n" style="left:1117.8px;top:1081px">3</div>
<div class="n" style="left:1202.0px;top:1081px">14</div>
<div class="t" style="left:1304.8px;top:1082px">18</div>
<div class="row e" style="top:1120.46px;height:54.12px"></div>
<div class="ln" style="top:1172.58px"></div>
<div class="rk" style="top:1135px">20</div>
<div class="fl w" style="top:1134.92px"><svg viewBox="0 0 44 30" preserveAspectRatio="none"><rect width="44" height="15" fill="#2f4ea8"/><rect y="15" width="44" height="15" fill="#d42d3a"/><polygon points="0,0 24,15 0,30" fill="#fff"/><line x1="9.5" y1="15" x2="13.90" y2="15.00" stroke="#f2c531" stroke-width="1.1"/><line x1="9.5" y1="15" x2="12.61" y2="18.11" stroke="#f2c531" stroke-width="1.1"/><line x1="9.5" y1="15" x2="9.50" y2="19.40" stroke="#f2c531" stroke-width="1.1"/><line x1="9.5" y1="15" x2="6.39" y2="18.11" stroke="#f2c531" stroke-width="1.1"/><line x1="9.5" y1="15" x2="5.10" y2="15.00" stroke="#f2c531" stroke-width="1.1"/><line x1="9.5" y1="15" x2="6.39" y2="11.89" stroke="#f2c531" stroke-width="1.1"/><line x1="9.5" y1="15" x2="9.50" y2="10.60" stroke="#f2c531" stroke-width="1.1"/><line x1="9.5" y1="15" x2="12.61" y2="11.89" stroke="#f2c531" stroke-width="1.1"/><circle cx="9.5" cy="15" r="2.4" fill="#f2c531"/><polygon points="3.00,2.50 3.22,3.19 3.95,3.19 3.36,3.62 3.59,4.31 3.00,3.88 2.41,4.31 2.64,3.62 2.05,3.19 2.78,3.19" fill="#f2c531"/><polygon points="3.00,25.50 3.22,26.19 3.95,26.19 3.36,26.62 3.59,27.31 3.00,26.88 2.41,27.31 2.64,26.62 2.05,26.19 2.78,26.19" fill="#f2c531"/><polygon points="19.50,14.00 19.72,14.69 20.45,14.69 19.86,15.12 20.09,15.81 19.50,15.38 18.91,15.81 19.14,15.12 18.55,14.69 19.28,14.69" fill="#f2c531"/></svg></div>
<div class="nm" style="top:1136.00px;letter-spacing:0.150px">Philippines</div>
<div class="n" style="left:1010.2px;top:1135px">1</div>
<div class="n" style="left:1117.8px;top:1135px">1</div>
<div class="n" style="left:1202.0px;top:1135px">9</div>
<div class="t" style="left:1304.8px;top:1136px">11</div>
<div class="row o" style="top:1174.58px;height:54.12px"></div>
<div class="ln" style="top:1226.70px"></div>
<div class="rk" style="top:1189px">21</div>
<div class="fl" style="top:1189.04px"><svg viewBox="0 0 44 30" preserveAspectRatio="none"><rect width="44" height="10" fill="#2f9a44"/><rect y="10" width="44" height="10" fill="#fff"/><rect y="20" width="44" height="10" fill="#111"/><rect width="11" height="30" fill="#e5262e"/></svg></div>
<div class="nm" style="top:1190.00px;letter-spacing:0.289px">United Arab Emirates</div>
<div class="n" style="left:1010.2px;top:1189px">1</div>
<div class="n" style="left:1117.8px;top:1189px">1</div>
<div class="n" style="left:1202.0px;top:1189px">4</div>
<div class="t" style="left:1304.8px;top:1190px">6</div>
<div class="row e" style="top:1228.70px;height:54.12px"></div>
<div class="ln" style="top:1280.82px"></div>
<div class="rk" style="top:1244px">22</div>
<div class="fl" style="top:1243.16px"><svg viewBox="0 0 44 30" preserveAspectRatio="none"><rect width="44" height="8.5" fill="#d72a32"/><rect y="8.5" width="44" height="13" fill="#fff"/><rect y="21.5" width="44" height="8.5" fill="#2a7a3a"/><path d="M18.5 17.5 Q22 14 25.5 17.5 Z" fill="#e8b83a"/><polygon points="17.20,14.80 17.36,15.28 17.87,15.28 17.45,15.58 17.61,16.07 17.20,15.77 16.79,16.07 16.95,15.58 16.53,15.28 17.04,15.28" fill="#e8b83a"/><polygon points="17.84,12.64 18.00,13.12 18.51,13.12 18.10,13.42 18.25,13.91 17.84,13.61 17.43,13.91 17.59,13.42 17.18,13.12 17.69,13.12" fill="#e8b83a"/><polygon points="19.60,11.06 19.76,11.54 20.27,11.54 19.85,11.84 20.01,12.33 19.60,12.03 19.19,12.33 19.35,11.84 18.93,11.54 19.44,11.54" fill="#e8b83a"/><polygon points="22.00,10.48 22.16,10.96 22.67,10.96 22.25,11.26 22.41,11.75 22.00,11.45 21.59,11.75 21.75,11.26 21.33,10.96 21.84,10.96" fill="#e8b83a"/><polygon points="24.40,11.06 24.56,11.54 25.07,11.54 24.65,11.84 24.81,12.33 24.40,12.03 23.99,12.33 24.15,11.84 23.73,11.54 24.24,11.54" fill="#e8b83a"/><polygon points="26.16,12.64 26.31,13.12 26.82,13.12 26.41,13.42 26.57,13.91 26.16,13.61 25.75,13.91 25.90,13.42 25.49,13.12 26.00,13.12" fill="#e8b83a"/><polygon points="26.80,14.80 26.96,15.28 27.47,15.28 27.05,15.58 27.21,16.07 26.80,15.77 26.39,16.07 26.55,15.58 26.13,15.28 26.64,15.28" fill="#e8b83a"/></svg></div>
<div class="nm" style="top:1245.00px;letter-spacing:0.178px">Tajikistan</div>
<div class="n" style="left:1010.2px;top:1244px">1</div>
<div class="n" style="left:1117.8px;top:1244px">1</div>
<div class="n" style="left:1202.0px;top:1244px">3</div>
<div class="t" style="left:1304.8px;top:1245px">5</div>
</body></html>
